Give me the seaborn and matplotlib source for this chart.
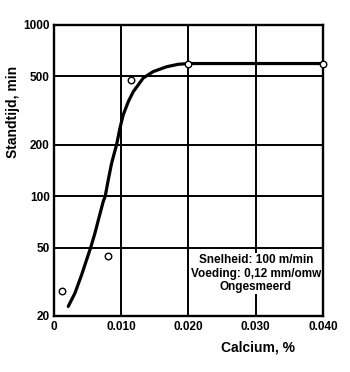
import matplotlib
matplotlib.use("Agg")
import matplotlib.pyplot as plt
import seaborn as sns
import pandas as pd

# Fitted tool-life curve: calcium content (%) vs. tool life (min)
curve_ca = [0.00213, 0.00312, 0.00412, 0.00486, 0.00546, 0.00610, 0.00674,
            0.00733, 0.00763, 0.00807, 0.00858, 0.00932, 0.00981, 0.01030,
            0.01105, 0.01179, 0.01328, 0.01477, 0.01676, 0.01848, 0.0200,
            0.0300, 0.0400]
curve_life = [22.7, 27.1, 34.7, 42.5, 50, 60.8, 76,
              93, 100, 124, 156, 200, 249, 298,
              356, 407, 490, 534, 570, 589, 595,
              595, 595]

# Measured points
meas_ca = [0.0012, 0.0080, 0.0115, 0.0200, 0.0400]
meas_life = [28, 45, 475, 595, 595]

x_ticks = [0, 0.010, 0.020, 0.030, 0.040]
x_tick_labels = ["0", "0.010", "0.020", "0.030", "0.040"]
y_ticks = [20, 50, 100, 200, 500, 1000]
y_tick_labels = ["20", "50", "100", "200", "500", "1000"]

note_lines = ["Snelheid: 100 m/min", "Voeding: 0,12 mm/omw", "Ongesmeerd"]

sns.set_theme(style="white")
plt.rcParams["font.family"] = ["Liberation Sans", "DejaVu Sans"]
plt.rcParams["font.weight"] = "bold"
for key in ("text.color", "axes.labelcolor", "xtick.color", "ytick.color"):
    plt.rcParams[key] = "black"

fig = plt.figure(figsize=(3.5, 3.72), dpi=100)
ax = fig.add_axes([0.154, 0.151, 0.769, 0.782])

curve_df = pd.DataFrame({"ca": curve_ca, "life": curve_life})
meas_df = pd.DataFrame({"ca": meas_ca, "life": meas_life})

ax.set_yscale("log")
ax.set_xlim(0, 0.040)
ax.set_ylim(20, 1000)

for xv in x_ticks[1:-1]:
    ax.axvline(xv, color="black", lw=1.4, zorder=1)
for yv in y_ticks[1:-1]:
    ax.axhline(yv, color="black", lw=1.4, zorder=1)

sns.lineplot(data=curve_df, x="ca", y="life", ax=ax, color="black",
             lw=2.3, sort=True, zorder=3)
line = ax.lines[-1]
line.set_solid_joinstyle("round")
line.set_solid_capstyle("round")
sns.scatterplot(data=meas_df, x="ca", y="life", ax=ax, marker="o", s=22,
                facecolor="white", edgecolor="black", linewidth=1.0,
                zorder=7, clip_on=False)

ax.set_xticks(x_ticks)
ax.set_xticklabels(x_tick_labels, fontsize=8.5, fontweight="bold")
ax.set_yticks(y_ticks)
ax.set_yticklabels(y_tick_labels, fontsize=8.5, fontweight="bold")
ax.yaxis.set_minor_locator(matplotlib.ticker.NullLocator())
ax.tick_params(axis="both", length=0, pad=4)
ax.tick_params(axis="y", pad=3)

for sp in ax.spines.values():
    sp.set_color("black")
    sp.set_linewidth(1.7)
    sp.set_zorder(6)

ax.set_xlabel("Calcium, %", fontsize=10, fontweight="bold")
ax.xaxis.set_label_coords(0.76, -0.085)
ax.set_ylabel("Standtijd, min", fontsize=10, fontweight="bold")
ax.yaxis.set_label_coords(-0.125, 0.70)

ax.text(0.030, 35.2, "\n".join(note_lines), ha="center", va="center",
        fontsize=8.5, fontweight="bold", linespacing=1.15, zorder=5,
        bbox=dict(boxstyle="square,pad=0.1", facecolor="white", edgecolor="none"))

fig.savefig("out.png", dpi=100, facecolor="white")
